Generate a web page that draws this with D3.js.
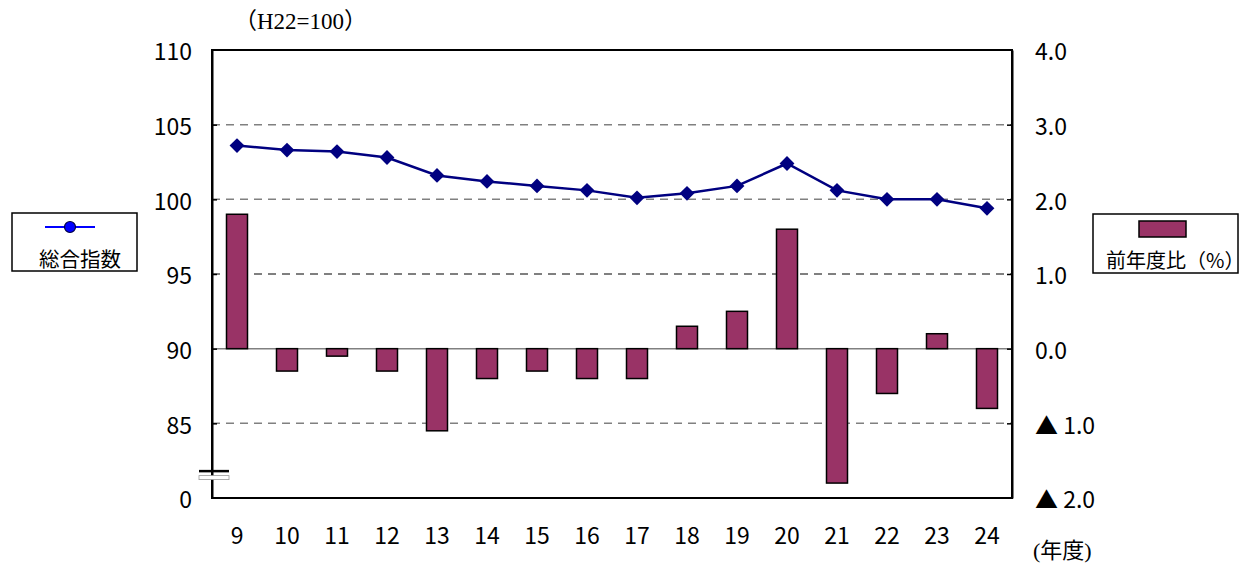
<!DOCTYPE html>
<html>
<head>
<meta charset="utf-8">
<script src="https://cdn.jsdelivr.net/npm/d3@7"></script>
<style>
  body { margin: 0; background: #fff; }
  svg text { font-family: "Liberation Sans Narrow", "Noto Sans CJK JP", sans-serif; fill: #000; }
  .serif { font-family: "Liberation Serif", "Noto Sans CJK JP", serif !important; }
</style>
</head>
<body>
<svg id="chart" width="1254" height="564"></svg>
<script>
// fiscal years (Heisei)
var years = ["9", "10", "11", "12", "13", "14", "15", "16", "17", "18", "19", "20", "21", "22", "23", "24"];
// composite index (H22 = 100)
var indexValues = [103.6, 103.3, 103.2, 102.8, 101.6, 101.2, 100.9, 100.6, 100.1, 100.4, 100.9, 102.4, 100.6, 100.0, 100.0, 99.4];
// change from previous year (%)
var changeValues = [1.8, -0.3, -0.1, -0.3, -1.1, -0.4, -0.3, -0.4, -0.4, 0.3, 0.5, 1.6, -1.8, -0.6, 0.2, -0.8];
var leftTicks = [80, 85, 90, 95, 100, 105, 110];
var rightTicks = [-2, -1, 0, 1, 2, 3, 4];

var svg = d3.select("#chart");
var pLeft = 212, pRight = 1012, pTop = 50, pBottom = 498;

var x = d3.scaleBand().domain(years).range([pLeft, pRight]);
var yL = d3.scaleLinear().domain([80, 110]).range([pBottom, pTop]);
var yR = d3.scaleLinear().domain([-2, 4]).range([pBottom, pTop]);

// grid lines
svg.append("g")
  .selectAll("line")
  .data(rightTicks.filter(function (d) { return d > -2 && d < 4; }))
  .enter().append("line")
  .attr("x1", pLeft).attr("x2", pRight)
  .attr("y1", function (d) { return yR(d); })
  .attr("y2", function (d) { return yR(d); })
  .attr("stroke", function (d) { return d == 1 ? "#000" : "#808080"; })
  .attr("stroke-width", function (d) { return d == 1 ? 1 : 1.5; })
  .attr("stroke-dasharray", function (d) { return d == 0 ? null : "8,6"; });

// bars
var barW = 21;
svg.append("g")
  .selectAll("rect")
  .data(changeValues)
  .enter().append("rect")
  .attr("x", function (d, i) { return x(years[i]) + (x.bandwidth() - barW) / 2; })
  .attr("y", function (d) { return yR(Math.max(d, 0)); })
  .attr("width", barW)
  .attr("height", function (d) { return Math.abs(yR(d) - yR(0)); })
  .attr("fill", "#993366")
  .attr("stroke", "#000")
  .attr("stroke-width", 1.5);

// index line
var line = d3.line()
  .x(function (d, i) { return x(years[i]) + x.bandwidth() / 2; })
  .y(function (d) { return yL(d); });

svg.append("path")
  .datum(indexValues)
  .attr("d", line)
  .attr("fill", "none")
  .attr("stroke", "#000080")
  .attr("stroke-width", 2.5);

svg.append("g")
  .selectAll("path")
  .data(indexValues)
  .enter().append("path")
  .attr("d", d3.symbol().type(d3.symbolSquare).size(110))
  .attr("transform", function (d, i) {
    return "translate(" + (x(years[i]) + x.bandwidth() / 2) + "," + yL(d) + ") rotate(45)";
  })
  .attr("fill", "#000080");

// frame
svg.append("rect")
  .attr("x", pLeft).attr("y", pTop)
  .attr("width", pRight - pLeft).attr("height", pBottom - pTop)
  .attr("fill", "none")
  .attr("stroke", "#000")
  .attr("stroke-width", 2);

// left axis
var axL = svg.append("g")
  .attr("transform", "translate(" + pLeft + ",0)")
  .call(d3.axisLeft(yL).tickValues(leftTicks)
    .tickFormat(function (d) { return d == 80 ? "0" : d; })
    .tickSize(-5).tickSizeOuter(0).tickPadding(20));
axL.select(".domain").attr("stroke", "#000").attr("stroke-width", 2);
axL.selectAll(".tick line").attr("stroke", "#000").attr("stroke-width", 1.5)
  .filter(function (d) { return d == 80 || d == 110; }).remove();
axL.selectAll("text").attr("font-size", 23).attr("font-family", null).attr("dy", "0.42em");

// right axis
var axR = svg.append("g")
  .attr("transform", "translate(" + pRight + ",0)")
  .call(d3.axisRight(yR).tickValues(rightTicks)
    .tickFormat(function (d) { return d < 0 ? "\u25B2 " + Math.abs(d).toFixed(1) : d.toFixed(1); })
    .tickSize(-5).tickSizeOuter(0).tickPadding(23));
axR.select(".domain").attr("stroke", "#000").attr("stroke-width", 2);
axR.selectAll(".tick line").attr("stroke", "#000").attr("stroke-width", 1.5)
  .filter(function (d) { return d == -2 || d == 4; }).remove();
axR.selectAll("text").attr("font-size", 23).attr("font-family", null).attr("dy", "0.42em");

// bottom axis
var axB = svg.append("g")
  .attr("transform", "translate(0," + pBottom + ")")
  .call(d3.axisBottom(x).tickSize(0).tickPadding(30));
axB.select(".domain").remove();
axB.selectAll("text").attr("font-size", 23).attr("font-family", null);

// axis break mark
svg.append("rect")
  .attr("x", pLeft - 13).attr("y", yL(81.5))
  .attr("width", 30).attr("height", 4)
  .attr("fill", "#fff").attr("stroke", "#999").attr("stroke-width", 0.8);
svg.append("line")
  .attr("x1", pLeft - 13).attr("x2", pLeft + 17)
  .attr("y1", yL(81.8)).attr("y2", yL(81.8))
  .attr("stroke", "#000").attr("stroke-width", 2.5);

// unit labels
svg.append("text").attr("class", "serif")
  .attr("x", 234).attr("y", 29).attr("font-size", 23)
  .text("\uFF08H22=100\uFF09");
svg.append("text").attr("class", "serif")
  .attr("x", 1033).attr("y", 558).attr("font-size", 22)
  .text("(年度)");

// legend: index
var lg1 = svg.append("g");
lg1.append("rect").attr("x", 12).attr("y", 213).attr("width", 125).attr("height", 58)
  .attr("fill", "#fff").attr("stroke", "#000").attr("stroke-width", 1.5);
lg1.append("line").attr("x1", 45).attr("x2", 95).attr("y1", 227).attr("y2", 227)
  .attr("stroke", "#0000ff").attr("stroke-width", 2);
lg1.append("circle").attr("cx", 70).attr("cy", 227).attr("r", 5.5)
  .attr("fill", "#0000ff").attr("stroke", "#000040").attr("stroke-width", 1.2);
lg1.append("text").attr("x", 39).attr("y", 267).attr("font-size", 20.5)
  .style("font-family", "'Noto Sans CJK JP', sans-serif")
  .text("総合指数");

// legend: change
var lg2 = svg.append("g");
lg2.append("rect").attr("x", 1093).attr("y", 214).attr("width", 145).attr("height", 59)
  .attr("fill", "#fff").attr("stroke", "#000").attr("stroke-width", 1.5);
lg2.append("rect").attr("x", 1139).attr("y", 221).attr("width", 47).attr("height", 16)
  .attr("fill", "#993366").attr("stroke", "#000").attr("stroke-width", 1.5);
lg2.append("text").attr("x", 1106).attr("y", 268).attr("font-size", 20)
  .style("font-family", "'Noto Sans CJK JP', sans-serif")
  .text("前年度比（%）");
</script>
</body>
</html>
